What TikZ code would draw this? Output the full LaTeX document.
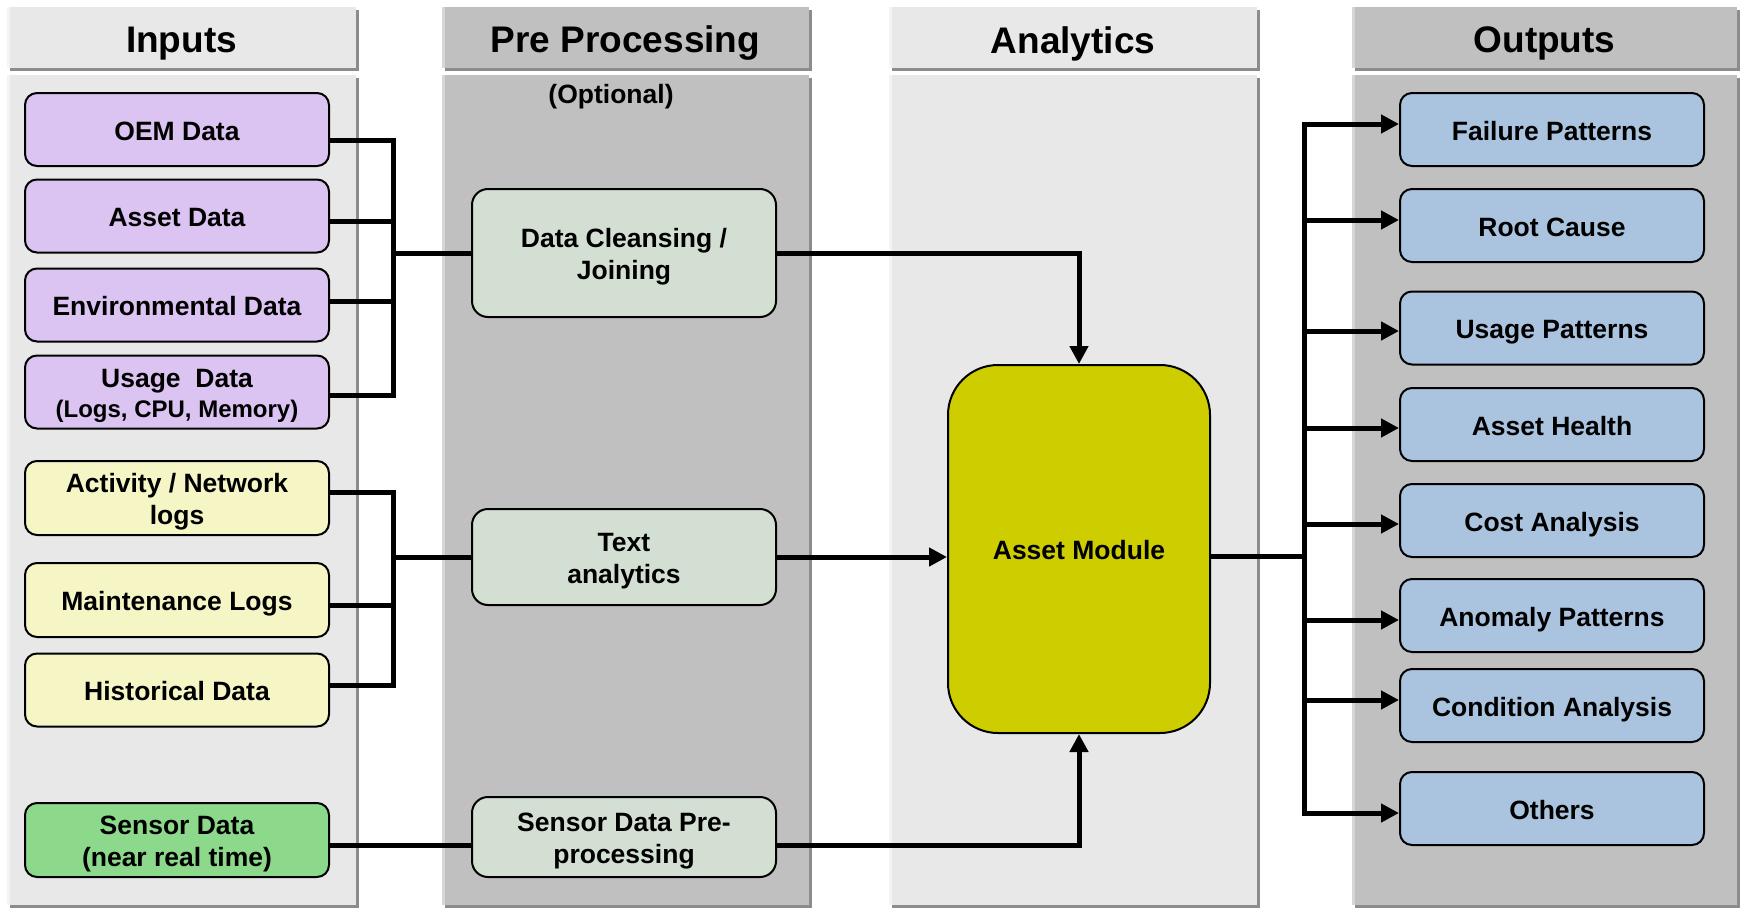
\documentclass[tikz,border=0pt]{standalone}
\usepackage{fontspec}
\setmainfont{Liberation Sans}
\usetikzlibrary{arrows.meta}

\definecolor{panelL}{HTML}{E8E8E8}
\definecolor{panelD}{HTML}{C0C0C0}
\definecolor{panelS}{HTML}{8C8C8C}
\definecolor{edgeL}{HTML}{F4F4F4}
\definecolor{edgeD}{HTML}{D6D6D6}
\definecolor{inPurple}{HTML}{DBC3F2}
\definecolor{inYellow}{HTML}{F5F5C6}
\definecolor{inGreen}{HTML}{8CD98C}
\definecolor{preBox}{HTML}{D4DFD4}
\definecolor{amYellow}{HTML}{CDCD00}
\definecolor{outBlue}{HTML}{AAC4DF}

% one swim lane: header strip and body, each with a drop shadow
\newcommand\lanepanel[4]{%
  \fill[panelS] (#1+3,10) rectangle (#2+3,71);
  \fill[#3] (#1,7) rectangle (#2,68);
  \fill[#4] (#1,7) rectangle (#1+3,68);
  \fill[panelS] (#1+3,78) rectangle (#2+3,908);
  \fill[#3] (#1,75) rectangle (#2,905);
  \fill[#4] (#1,75) rectangle (#1+3,905);
}

% box label, set a little below the optical centre of its box
\newcommand\boxtext[1]{\raisebox{-4.5pt}[\height][\depth]{\begin{tabular}{@{}c@{}}#1\end{tabular}}}

\tikzset{
  box/.style={draw=black, line width=2pt, rounded corners=12pt, inner sep=0pt,
    minimum width=304pt, minimum height=73pt, align=center,
    font=\fontsize{26.5}{32}\selectfont\bfseries},
  prebox/.style={box, fill=preBox, rounded corners=16pt},
  hdr/.style={font=\fontsize{37}{44}\selectfont\bfseries},
  ln/.style={line width=5pt},
  arr/.style={line width=5pt, -{Triangle[length=18pt,width=18pt]}},
}

\begin{document}
\begin{tikzpicture}[x=1pt,y=-1pt]
\useasboundingbox[fill=white] (0,0) rectangle (1743,910);

% lanes
\lanepanel{7}{356}{panelL}{edgeL}
\lanepanel{442}{809}{panelD}{edgeD}
\lanepanel{889}{1257}{panelL}{edgeL}
\lanepanel{1352}{1737}{panelD}{edgeD}

\node[hdr] (hin)  at (181.5,43.5) {Inputs};
\node[hdr] (hpre) at (625.5,43.5) {Pre Processing};
\node[hdr] (hana) at (1073,43.5) {Analytics};
\node[hdr] (hout) at (1544.5,43.5) {Outputs};
\node[font=\fontsize{26.5}{32}\selectfont\bfseries] (opt) at (611,96.5) {(Optional)};

% inputs
\node[box, fill=inPurple] (oem)   at (177,129.5) {\boxtext{OEM Data}};
\node[box, fill=inPurple] (asset) at (177,216) {\boxtext{Asset Data}};
\node[box, fill=inPurple] (env)   at (177,305) {\boxtext{Environmental Data}};
\node[box, fill=inPurple] (usage) at (177,392) {\boxtext{Usage~~Data\\[-2pt]{\fontsize{24}{28}\selectfont(Logs, CPU, Memory)}}};
\node[box, fill=inYellow, minimum height=74pt] (act) at (177,498) {\boxtext{Activity / Network\\logs}};
\node[box, fill=inYellow, minimum height=74pt] (maint) at (177,600) {\boxtext{Maintenance Logs}};
\node[box, fill=inYellow] (hist)  at (177,690) {\boxtext{Historical Data}};
\node[box, fill=inGreen, minimum height=74pt] (sens) at (177,840) {\boxtext{Sensor Data\\(near real time)}};

% pre processing
\node[prebox, minimum height=128pt] (clean) at (624,253) {\boxtext{Data Cleansing /\\Joining}};
\node[prebox, minimum height=96pt]  (txt)   at (624,557) {\boxtext{Text\\analytics}};
\node[prebox, minimum height=80pt]  (spre)  at (624,837) {\boxtext{Sensor Data Pre-\\processing}};

% analytics
\node[box, fill=amYellow, minimum width=262pt, minimum height=368pt, rounded corners=50pt] (am) at (1079,549) {\boxtext{Asset Module}};

% outputs
\node[box, fill=outBlue] (o1) at (1552,129.5) {\boxtext{Failure Patterns}};
\node[box, fill=outBlue] (o2) at (1552,225.5) {\boxtext{Root Cause}};
\node[box, fill=outBlue] (o3) at (1552,328) {\boxtext{Usage Patterns}};
\node[box, fill=outBlue] (o4) at (1552,424.5) {\boxtext{Asset Health}};
\node[box, fill=outBlue] (o5) at (1552,520.5) {\boxtext{Cost Analysis}};
\node[box, fill=outBlue] (o6) at (1552,615.5) {\boxtext{Anomaly Patterns}};
\node[box, fill=outBlue] (o7) at (1552,705.5) {\boxtext{Condition Analysis}};
\node[box, fill=outBlue] (o8) at (1552,808.5) {\boxtext{Others}};

% bus junctions
\coordinate (ib1) at (393,253);
\coordinate (ib2) at (393,557);
\coordinate (ob)  at (1304,556);

% inputs into pre processing
\draw[ln] ([yshift=-11pt]oem.east) -| (ib1);
\draw[ln] ([yshift=-5pt]asset.east) -| (ib1);
\draw[ln] ([yshift=4pt]env.east) -| (ib1);
\draw[ln] ([yshift=-3pt]usage.east) -| (ib1);
\draw[ln] (ib1) -- (clean.west);

\draw[ln] ([yshift=6pt]act.east) -| (ib2);
\draw[ln] ([yshift=-5pt]maint.east) -| (ib2);
\draw[ln] ([yshift=5pt]hist.east) -| (ib2);
\draw[ln] (ib2) -- (txt.west);

\draw[ln] ([yshift=-5pt]sens.east) -- ([yshift=-8pt]spre.west);

% pre processing into the asset module
\draw[arr] (clean.east) -| (am.north);
\draw[arr] (txt.east) -- (txt.east -| am.west);
\draw[arr] ([yshift=-8pt]spre.east) -| (am.south);

% asset module out to the results
\draw[ln] ([yshift=-7pt]am.east) -- (ob);
\draw[arr] (ob) |- ([yshift=5.5pt]o1.west);
\draw[arr] (ob) |- ([yshift=5.5pt]o2.west);
\draw[arr] (ob) |- ([yshift=-3pt]o3.west);
\draw[arr] (ob) |- ([yshift=-3.5pt]o4.west);
\draw[arr] (ob) |- ([yshift=-3.5pt]o5.west);
\draw[arr] (ob) |- ([yshift=-4.5pt]o6.west);
\draw[arr] (ob) |- ([yshift=5.5pt]o7.west);
\draw[arr] (ob) |- ([yshift=-4.5pt]o8.west);
\end{tikzpicture}
\end{document}
